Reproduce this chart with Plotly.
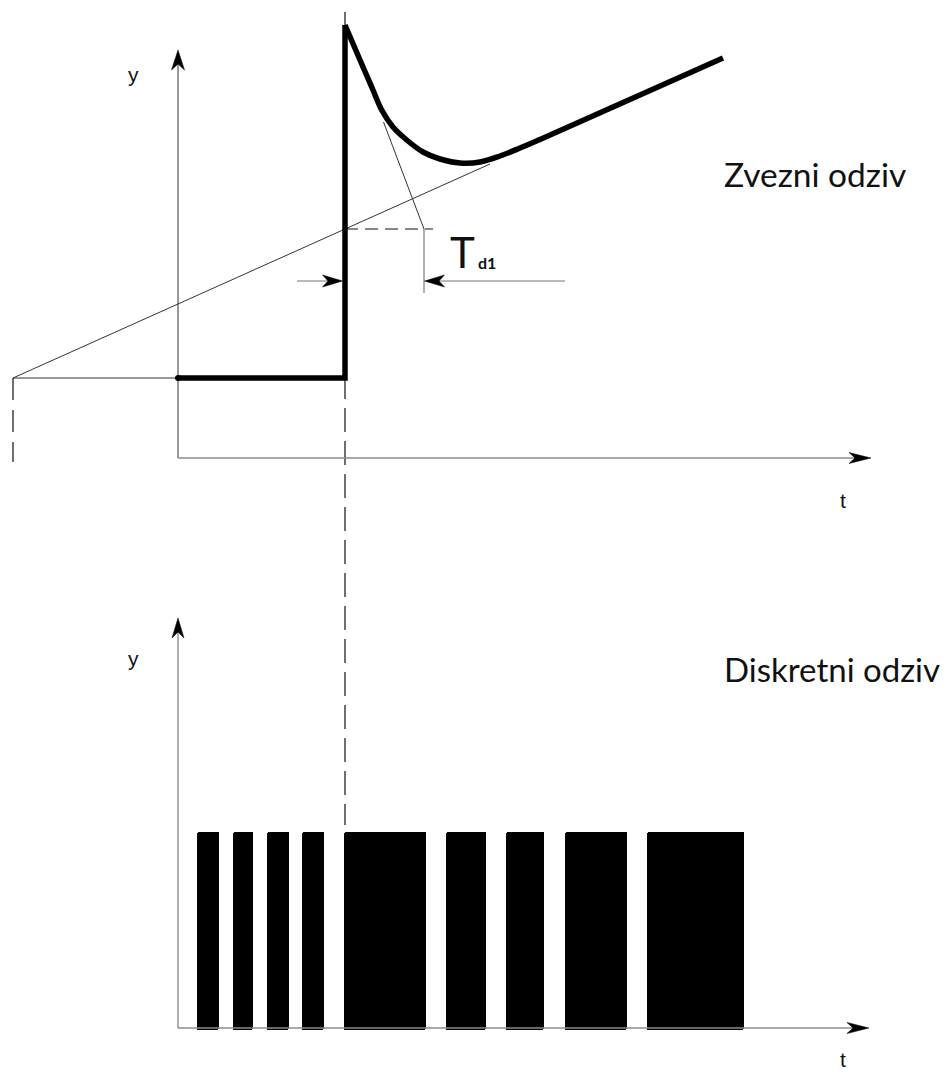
import plotly.graph_objects as go

# ------------------------------------------------------------------
# Upper diagram: continuous response (t to the right, y upwards,
# origin in the corner of the axes, 1 unit = 10 px)
# ------------------------------------------------------------------
step_time = 16.7            # instant of the input step
base_level = 8.0            # output level before the step
peak_level = 43.3           # output right after the step
ramp_start_t = -16.5        # extrapolated ramp meets the base level here
ramp_t = [-16.5, 31.2]      # thin ramp (proportional part)
ramp_y = [8.0, 29.4]
pre_t = [-16.5, 0.0]        # thin base line left of the y axis
pre_y = [8.0, 8.0]

response_t = [0.0, step_time, step_time]
response_y = [base_level, base_level, peak_level]

# decaying derivative part merging into the ramp
curve_t = [16.7, 18.5, 19.5, 20.37, 21.5, 22.87, 24.5, 26.2, 28.2,
           30.2, 32.2, 34.2, 36.2, 43.5, 54.5]
curve_y = [43.3, 39.1, 36.8, 34.8, 33.1, 31.8, 30.6, 29.9, 29.5,
           29.6, 30.2, 31.0, 31.86, 35.1, 40.0]

ramp_at_step = 22.9         # ramp value at the step instant
tangent_t = [20.55, 24.6]   # tangent of the initial decay
tangent_y = [33.6, 22.9]
td_end = 24.6               # tangent reaches the ramp level -> Td1
td_level = 17.7             # height of the Td1 dimension arrows

# ------------------------------------------------------------------
# Lower diagram: discrete (pulse) response
# ------------------------------------------------------------------
pulse_start = [1.9, 5.5, 8.9, 12.4, 16.6, 26.8, 32.8, 38.7, 46.9]
pulse_end = [4.1, 7.5, 11.1, 14.6, 24.8, 30.8, 36.6, 44.9, 56.6]
pulse_level = 19.6

# ------------------------------------------------------------------
INK = "#111111"
THIN = "#333333"
AXIS = "#8c8c8c"
LABEL_FONT = "Lato, Calibri, 'Open Sans', sans-serif"
AXIS_FONT = "'Liberation Sans', Arial, sans-serif"

fig = go.Figure()


def line(xs, ys, color=THIN, width=1.0, dash=None, ax="x", ay="y",
         shape="linear"):
    fig.add_trace(go.Scatter(
        x=xs, y=ys, mode="lines", xaxis=ax, yaxis=ay, hoverinfo="skip",
        line=dict(color=color, width=width, dash=dash, shape=shape),
    ))


def arrow_head(tip, direction, length, half_width, notch, ax="x", ay="y"):
    tx, ty = tip
    dx, dy = direction
    nx_, ny_ = -dy, dx
    bx, by = tx - dx * length, ty - dy * length
    cx, cy = tx - dx * (length - notch), ty - dy * (length - notch)
    xs = [tx, bx + nx_ * half_width, cx, bx - nx_ * half_width, tx]
    ys = [ty, by + ny_ * half_width, cy, by - ny_ * half_width, ty]
    fig.add_trace(go.Scatter(
        x=xs, y=ys, mode="lines", fill="toself", fillcolor="black",
        line=dict(color="black", width=0.5), xaxis=ax, yaxis=ay,
        hoverinfo="skip",
    ))


# long dashed guide through the step instant (both diagrams)
line([step_time, step_time], [44.6, -36.7], color=INK, width=1.2,
     dash="24px,9px")

# ---------------- upper axes ----------------
line([0, 0], [0, 39.6], color="#333333", width=1.0)
arrow_head((0, 40.8), (0, 1), 2.0, 0.65, 0.6)
line([0, 68.0], [0, 0], color=AXIS, width=1.6)
arrow_head((69.3, 0), (1, 0), 2.2, 0.55, 0.6)

# thin construction lines
line(pre_t, pre_y, color=THIN, width=1.0)
line([ramp_start_t, ramp_start_t], [base_level, -0.4], color=INK,
     width=1.2, dash="22px,10px")
line(ramp_t, ramp_y, color=THIN, width=1.0)
line(tangent_t, tangent_y, color=THIN, width=1.0)
line([step_time, 25.5], [ramp_at_step, ramp_at_step], color=INK,
     width=1.2, dash="13px,7px")
line([td_end, td_end], [ramp_at_step, 16.5], color=AXIS, width=1.4)

# Td1 dimension arrows
line([11.9, step_time - 0.4], [td_level, td_level], color="#777777",
     width=1.2)
arrow_head((step_time - 0.25, td_level), (1, 0), 2.0, 0.6, 0.55)
line([38.7, td_end + 0.5], [td_level, td_level], color="#777777",
     width=1.2)
arrow_head((td_end + 0.05, td_level), (-1, 0), 2.0, 0.6, 0.55)

# thick response
fig.add_trace(go.Scatter(
    x=response_t, y=response_y, mode="lines", hoverinfo="skip",
    line=dict(color="black", width=5.5),
))
fig.add_trace(go.Scatter(
    x=curve_t, y=curve_y, mode="lines", hoverinfo="skip",
    line=dict(color="black", width=5.5, shape="spline", smoothing=1.0),
))
fig.add_trace(go.Scatter(
    x=[0.0], y=[base_level], mode="markers", hoverinfo="skip",
    marker=dict(color="black", size=6),
))

# ---------------- lower axes ----------------
line([0, 0], [0, 39.8], color=AXIS, width=1.4, ax="x2", ay="y2")
arrow_head((0, 41.0), (0, 1), 2.0, 0.6, 0.6, ax="x2", ay="y2")

widths = [e - s for s, e in zip(pulse_start, pulse_end)]
centers = [(s + e) / 2 for s, e in zip(pulse_start, pulse_end)]
fig.add_trace(go.Bar(
    x=centers, y=[pulse_level + 0.2] * len(centers), base=-0.2,
    width=widths, xaxis="x2", yaxis="y2", hoverinfo="skip",
    marker=dict(color="black", line=dict(width=0), cornerradius=2),
))
line([0, 67.8], [0, 0], color=AXIS, width=1.6, ax="x2", ay="y2")
arrow_head((69.1, 0), (1, 0), 2.2, 0.55, 0.6, ax="x2", ay="y2")

# ---------------- text ----------------
def text(s, x, y, size, font=LABEL_FONT, ax="x", ay="y", xanchor="center",
         color="#111111", bold=False):
    fig.add_annotation(
        text=f"<b>{s}</b>" if bold else s, x=x, y=y, xref=ax, yref=ay,
        showarrow=False, xanchor=xanchor, yanchor="middle",
        font=dict(family=font, size=size, color=color),
    )


text("y", -4.5, 38.4, 21, font=AXIS_FONT)
text("t", 66.5, -4.2, 21, font=AXIS_FONT)
text("y", -4.5, 37.0, 21, font=AXIS_FONT, ax="x2", ay="y2")
text("t", 66.5, -3.1, 21, font=AXIS_FONT, ax="x2", ay="y2")

text("Zvezni odziv", 54.4, 28.4, 33.5, xanchor="left")
text("Diskretni odziv", 54.4, 35.9, 33, xanchor="left", ax="x2", ay="y2")

text("T", 28.4, 20.6, 42)
text("d1", 30.9, 19.6, 16, bold=True)

fig.update_layout(
    width=951, height=1072,
    margin=dict(l=0, r=0, t=0, b=0, pad=0),
    paper_bgcolor="white", plot_bgcolor="white",
    showlegend=False, bargap=0,
    xaxis=dict(range=[-17.8, 77.3], visible=False, fixedrange=True),
    yaxis=dict(range=[-61.4, 45.8], visible=False, fixedrange=True),
    xaxis2=dict(range=[-17.8, 77.3], visible=False, overlaying="x",
                fixedrange=True),
    yaxis2=dict(range=[-4.4, 102.8], visible=False, overlaying="y",
                fixedrange=True),
)

fig.write_html("out.html", config={"displayModeBar": False})
